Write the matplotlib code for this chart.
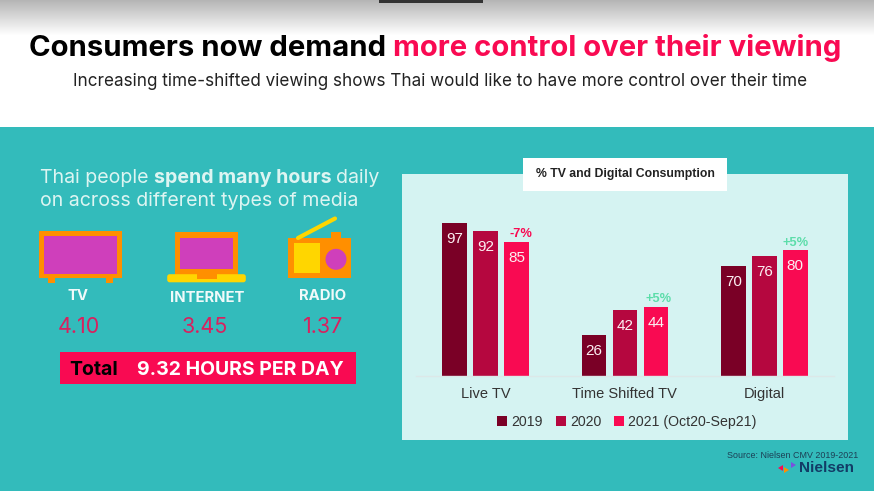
import matplotlib
matplotlib.use('Agg')
import matplotlib.pyplot as plt
from matplotlib.patches import Rectangle, Circle, Polygon, FancyBboxPatch
import numpy as np

W, H = 874, 491

categories = ['Live TV', 'Time Shifted TV', 'Digital']
years = ['2019', '2020', '2021 (Oct20-Sep21)']
v2019 = [97, 26, 70]
v2020 = [92, 42, 76]
v2021 = [85, 44, 80]
changes = ['-7%', '+5%', '+5%']

media = ['TV', 'INTERNET', 'RADIO']
hours = ['4.10', '3.45', '1.37']

teal = '#33BBBB'
panel = '#D5F3F2'
c2019 = '#7A0026'
c2020 = '#B5073F'
c2021 = '#F90A52'
pink = '#D8215F'
orange = '#FF8F00'
purple = '#CF3FBB'
yellow = '#FFD600'
green = '#5CDDAA'
inter = 'Inter'
arial = 'Liberation Sans'

fig = plt.figure(figsize=(W / 100, H / 100), dpi=100, facecolor='white')

# background layer in pixel coords, same as the screenshot
bg = fig.add_axes([0, 0, 1, 1])
bg.axis('off')

grad = np.linspace(0.71, 1, 36).reshape(-1, 1)
bg.imshow(grad, cmap='gray', vmin=0, vmax=1, extent=[0, W, 36, 0], aspect='auto')
bg.set_xlim(0, W)
bg.set_ylim(H, 0)


def box(x0, y0, x1, y1, color, **kw):
    bg.add_patch(Rectangle((x0, y0), x1 - x0, y1 - y0, fc=color, ec='none', **kw))


box(379, 0, 483, 3, '#333333')
box(0, 127, W, H, teal)
box(402, 174, 848, 440, panel)
box(523, 158, 727, 191, 'white')

bg.text(29, 48, 'Consumers now demand', fontsize=21.1, fontweight='bold', family=inter,
        color='black', va='center', ha='left')
bg.text(393, 48, 'more control over their viewing', fontsize=21.1, fontweight='bold', family=inter,
        color=c2021, va='center', ha='left')
bg.text(440.5, 81, 'Increasing time-shifted viewing shows Thai would like to have more control over their time',
        fontsize=12.3, family=inter, color='#222222', va='center', ha='center')

txt = '#DDF5F2'
bg.text(40, 178, 'Thai people', fontsize=14.1, family=inter, color=txt, va='center')
bg.text(153.7, 178, 'spend many hours', fontsize=14.1, family=inter, fontweight='bold', color=txt, va='center')
bg.text(335.7, 178, 'daily', fontsize=14.1, family=inter, color=txt, va='center')
bg.text(40, 200.5, 'on across different types of media', fontsize=14.1, family=inter, color=txt, va='center')

# tv icon
box(39, 231.3, 121.7, 278.3, orange)
box(43.7, 236, 117, 273.7, purple)
box(47.7, 278, 55, 283, orange)
box(105.7, 278, 113, 283, orange)
# laptop icon
box(175.3, 232.3, 237.7, 275, orange)
box(180.3, 237.7, 232.7, 269.3, purple)
bg.add_patch(FancyBboxPatch((168, 275), 77, 6.5, boxstyle='round,pad=0.8,rounding_size=2.5', fc=yellow, ec='none'))
box(196.7, 274.3, 217.3, 279, orange)
# radio icon
bg.plot([298, 335], [238, 218.5], color=yellow, lw=3, solid_capstyle='round')
box(331, 232, 341, 238, orange)
box(288.3, 237.7, 351, 278.3, orange)
box(293.7, 243, 320.3, 273, yellow)
bg.add_patch(Circle((336, 259.3), 10.5, fc=purple, ec='none'))
bg.set_xlim(0, W)
bg.set_ylim(H, 0)

label_x = [78, 207, 323]
label_y = [296, 297.7, 296]
hour_x = [79.3, 204.7, 322.7]
for name, val, lx, ly, hx in zip(media, hours, label_x, label_y, hour_x):
    bg.text(lx, ly, name, fontsize=10.7, fontweight='bold', family=inter, color='#F0FAFA', ha='center', va='center')
    bg.text(hx, 327, val, fontsize=15.5, family=inter, color=pink, ha='center', va='center')

box(60, 351.7, 355.7, 384.3, c2021)
bg.text(69.3, 370, 'Total', fontsize=14, fontweight='bold', family=inter, color='black', va='center')
bg.text(136.7, 370, '9.32 HOURS PER DAY', fontsize=14, fontweight='bold', family=inter, color='white', va='center')

bg.text(625, 174, '% TV and Digital Consumption', fontsize=8.8, fontweight='bold', family=arial,
        color='#222222', ha='center', va='center')
bg.text(858, 455, 'Source: Nielsen CMV 2019-2021', fontsize=6.4, family=arial, color='#1C3F55', ha='right', va='center')
bg.text(854, 467.5, 'Nielsen', fontsize=11.1, fontweight='bold', family=arial, color='#123C66', ha='right', va='center')
bg.add_patch(Polygon([(778, 468), (783, 465), (783, 471)], fc=c2021, ec='none'))
bg.add_patch(Polygon([(784, 467), (789, 470), (784, 473)], fc=orange, ec='none'))
bg.add_patch(Polygon([(791, 462), (796, 465), (791, 468)], fc='#7B4FE0', ec='none'))

# chart, the axes box spans the baseline from x=416 to 834
left, right, base, top = 416, 834, 376, 190
ax = fig.add_axes([left / W, 1 - base / H, (right - left) / W, (base - top) / H])
ax.patch.set_alpha(0)
ax.set_xlim(-0.4986, 2.5)
ax.set_ylim(0, (base - top) / 1.574)

x = np.arange(len(categories))
step = 0.2222
width = 0.1765
b1 = ax.bar(x - step, v2019, width, color=c2019, label=years[0])
b2 = ax.bar(x, v2020, width, color=c2020, label=years[1])
b3 = ax.bar(x + step, v2021, width, color=c2021, label=years[2])

for bars in (b1, b2, b3):
    ax.bar_label(bars, label_type='edge', padding=-16.5, color='#FCEFF2', fontsize=11, family=arial)

change_colors = [c2021 if c.startswith('-') else green for c in changes]
change_dx = [3, 2, 0.5]
change_dy = [1.5, 1, 1]
for i, c in enumerate(changes):
    ax.annotate(c, (x[i] + step, v2021[i]), xytext=(change_dx[i], change_dy[i]), textcoords='offset points',
                ha='center', va='bottom', fontsize=9.3, fontweight='bold', family=arial, color=change_colors[i])

for s in ['top', 'left', 'right']:
    ax.spines[s].set_visible(False)
ax.spines['bottom'].set_color('#DCE8E8')
ax.spines['bottom'].set_linewidth(1)
ax.set_yticks([])
ax.set_xticks(x)
ax.set_xticklabels(categories, fontsize=10.5, family=arial, color='#333333')
ax.tick_params(axis='x', length=0, pad=8)

ax.legend(loc='center', bbox_to_anchor=(627 / W, 1 - 422 / H), bbox_transform=fig.transFigure, ncol=3,
          frameon=False, handlelength=0.7, handleheight=0.7, handletextpad=0.3, columnspacing=0.9,
          prop={'family': arial, 'size': 10.2}, labelcolor='#333333')

fig.savefig('out.png', dpi=100)
